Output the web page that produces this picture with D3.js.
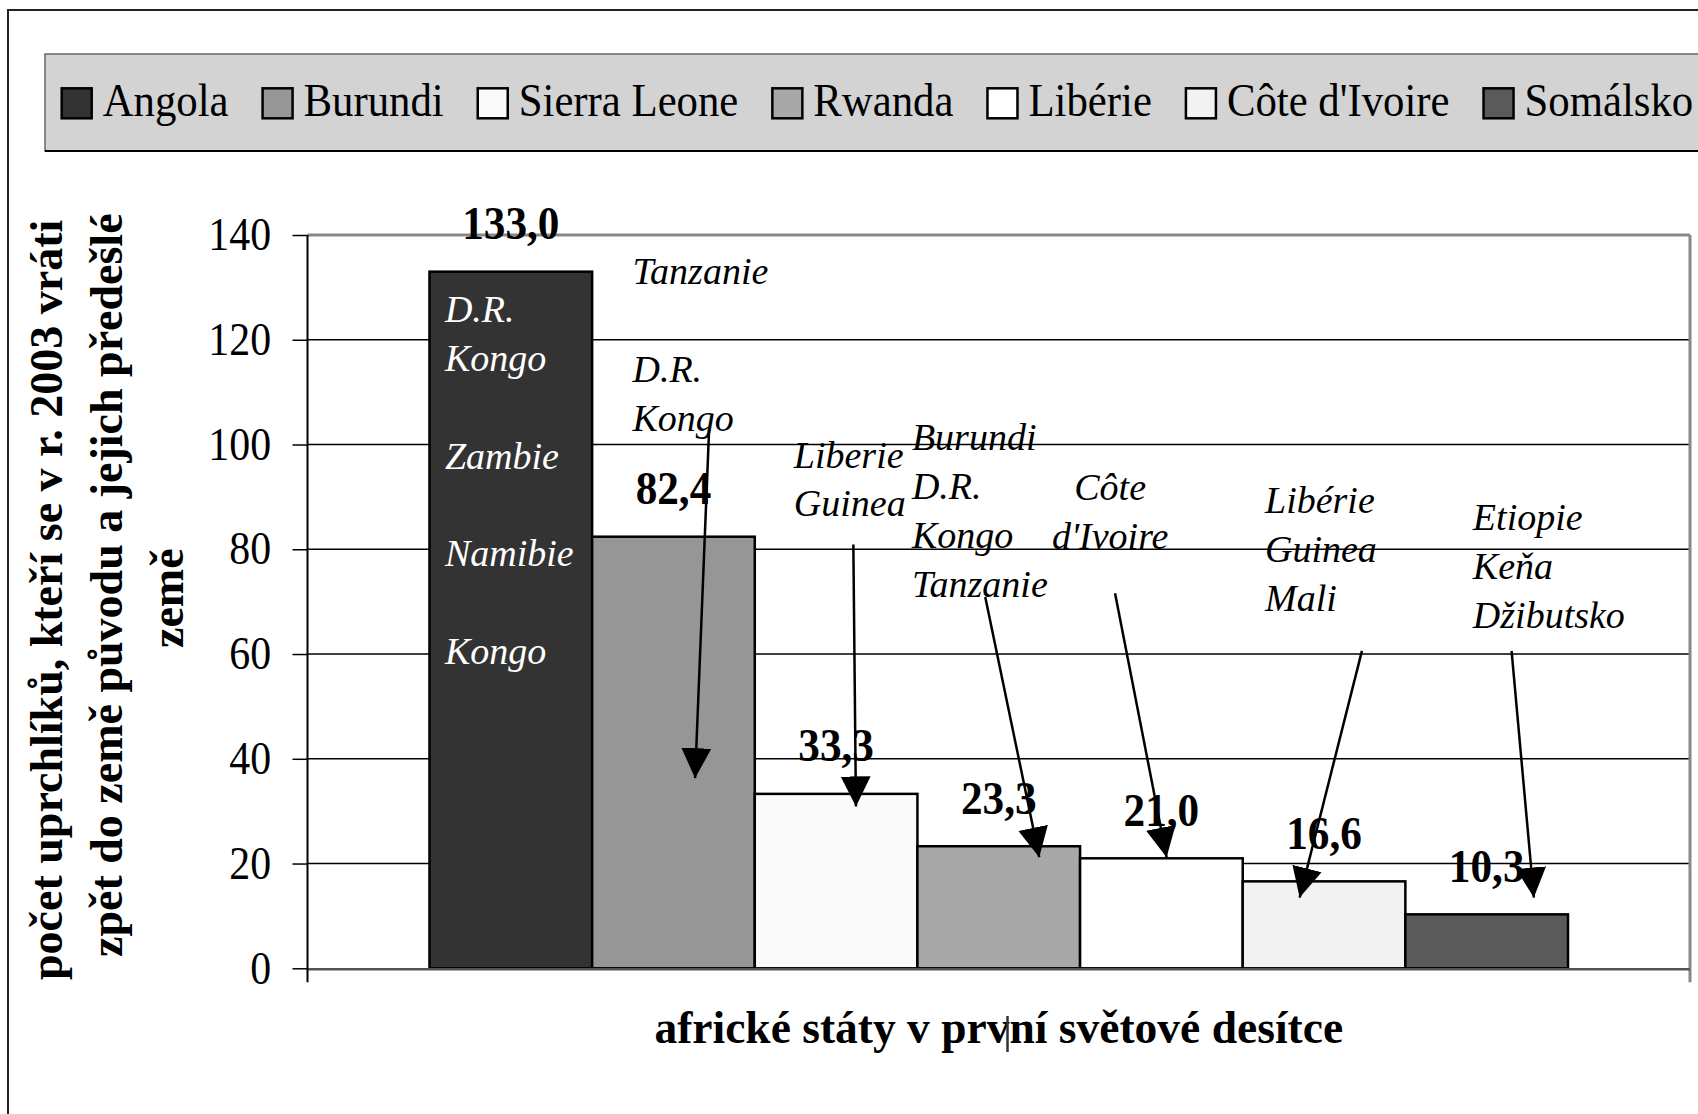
<!DOCTYPE html>
<html>
<head>
<meta charset="utf-8">
<script src="https://cdn.jsdelivr.net/npm/d3@7"></script>
<style>
  body { margin: 0; background: #fff; }
  text { font-family: "Liberation Serif", "Times New Roman", serif; }
</style>
</head>
<body>
<svg id="chart" width="1698" height="1114"></svg>
<script>
// refugees returned home in 2003 (thousands), top ten african states
const series = ["Angola", "Burundi", "Sierra Leone", "Rwanda", "Libérie", "Côte d'Ivoire", "Somálsko"];
const values = [133.0, 82.4, 33.3, 23.3, 21.0, 16.6, 10.3];
const colors = ["#333333", "#969696", "#fafafa", "#a8a8a8", "#ffffff", "#f2f2f2", "#5a5a5a"];
const yTicks = [0, 20, 40, 60, 80, 100, 120, 140];

// countries they came back from, written next to each bar
const noteLines = [
  ["D.R.", "Kongo", "", "Zambie", "", "Namibie", "", "Kongo"],
  ["Tanzanie", "", "D.R.", "Kongo"],
  ["Liberie", "Guinea"],
  ["Burundi", "D.R.", "Kongo", "Tanzanie"],
  ["Côte", "d'Ivoire"],
  ["Libérie", "Guinea", "Mali"],
  ["Etiopie", "Keňa", "Džibutsko"]
];
// [offset inside band (fraction of step), value of first baseline]
const noteAt = [[0.095, 123.3], [0.248, 130.6], [0.24, 95.6], [-0.034, 98.9], [0.185, 89.4], [0.137, 86.9], [0.415, 83.6]];
// arrows from the note to the bar: [band offset, value]
const arrowFrom = [null, [0.719, 102.8], [0.606, 80.9], [0.417, 70.9], [0.215, 71.6], [0.733, 60.6], [0.653, 60.6]];
const arrowTo = [null, [0.633, 36.3], [0.622, 30.9], [0.749, 21.2], [0.532, 21.2], [0.35, 13.5], [0.79, 13.5]];

const yTitle = [
  "počet uprchlíků, kteří se v r. 2003 vrátili",
  "zpět do země původu a jejich předešlé",
  "země"
];
const xTitle = "africké státy v první světové desítce";

const svg = d3.select("#chart");
const plot = { left: 307.5, right: 1690, top: 235, bottom: 968.3 };

const x = d3.scaleBand()
  .domain(series)
  .range([plot.left, plot.right])
  .paddingInner(0)
  .paddingOuter(0.75);

const y = d3.scaleLinear()
  .domain([0, 140])
  .range([plot.bottom, plot.top]);

// text squeezed sideways like in the original picture
function squeezed(g, str, px, py, size, sx) {
  return g.append("text")
    .attr("transform", `translate(${px},${py}) scale(${sx},1)`)
    .attr("font-size", size)
    .text(str);
}

// outer frame
svg.append("rect")
  .attr("x", 8).attr("y", 10)
  .attr("width", 1800).attr("height", 1200)
  .attr("fill", "#fff")
  .attr("stroke", "#222")
  .attr("stroke-width", 2);

// legend
const legend = svg.append("g");
legend.append("rect")
  .attr("x", 45).attr("y", 54)
  .attr("width", 1700).attr("height", 97)
  .attr("fill", "#d3d3d3")
  .attr("stroke", "#666")
  .attr("stroke-width", 1.5);
legend.append("line")
  .attr("x1", 45).attr("x2", 1698)
  .attr("y1", 151).attr("y2", 151)
  .attr("stroke", "#000").attr("stroke-width", 2);

const legSx = 0.91;
let lx = 61.7;
series.forEach((s, i) => {
  legend.append("rect")
    .attr("x", lx).attr("y", 88.3)
    .attr("width", 30).attr("height", 30)
    .attr("fill", colors[i])
    .attr("stroke", "#000")
    .attr("stroke-width", 2.5);
  const t = squeezed(legend, s, lx + 41, 116, 47, legSx);
  lx += 41 + t.node().getComputedTextLength() * legSx + 34;
});

// grid lines
svg.append("g")
  .selectAll("line")
  .data(yTicks.filter(t => t > 0 && t < 140))
  .join("line")
  .attr("x1", plot.left).attr("x2", plot.right)
  .attr("y1", d => y(d)).attr("y2", d => y(d))
  .attr("stroke", "#000")
  .attr("stroke-width", 1.5);

// plot area border (top and right)
svg.append("line")
  .attr("x1", plot.left).attr("x2", plot.right)
  .attr("y1", y(140)).attr("y2", y(140))
  .attr("stroke", "#888").attr("stroke-width", 3);
svg.append("line")
  .attr("x1", plot.right).attr("x2", plot.right)
  .attr("y1", y(140)).attr("y2", plot.bottom + 14)
  .attr("stroke", "#888").attr("stroke-width", 3);

// bars
svg.append("g")
  .selectAll("rect")
  .data(series)
  .join("rect")
  .attr("x", d => x(d))
  .attr("y", (d, i) => y(values[i]))
  .attr("width", x.bandwidth())
  .attr("height", (d, i) => y(0) - y(values[i]))
  .attr("fill", (d, i) => colors[i])
  .attr("stroke", "#000")
  .attr("stroke-width", 2.5);

// bottom axis line
svg.append("line")
  .attr("x1", plot.left).attr("x2", plot.right)
  .attr("y1", y(0) + 1).attr("y2", y(0) + 1)
  .attr("stroke", "#555").attr("stroke-width", 2.5);

// y axis
const tickSx = 0.91;
const yAxis = svg.append("g")
  .attr("transform", `translate(${plot.left},0)`)
  .call(d3.axisLeft(y).tickValues(yTicks).tickSize(15).tickPadding(25).tickFormat(d3.format("d")));
yAxis.select(".domain").remove();
yAxis.selectAll(".tick line").attr("stroke", "#000").attr("stroke-width", 1.5);
yAxis.selectAll(".tick text")
  .attr("font-family", "Liberation Serif")
  .attr("font-size", 46)
  .attr("fill", "#000")
  .attr("transform", `scale(${tickSx},1)`);
svg.append("line")
  .attr("x1", plot.left).attr("x2", plot.left)
  .attr("y1", y(140)).attr("y2", plot.bottom + 14)
  .attr("stroke", "#000").attr("stroke-width", 2);

// value labels
const fmt = v => d3.format(".1f")(v).replace(".", ",");
const labels = svg.append("g")
  .attr("font-weight", "bold");
series.forEach((s, i) => {
  squeezed(labels, fmt(values[i]), x(s) + x.bandwidth() / 2, y(values[i]) - 32.5, 46, 0.94)
    .attr("text-anchor", "middle");
});

// arrows
const defs = svg.append("defs");
defs.append("marker")
  .attr("id", "head")
  .attr("viewBox", "0 0 10 10")
  .attr("refX", 10).attr("refY", 5)
  .attr("markerUnits", "userSpaceOnUse")
  .attr("markerWidth", 30).attr("markerHeight", 31)
  .attr("orient", "auto")
  .append("path")
  .attr("d", "M0,0L10,5L0,10Z")
  .attr("fill", "#000");

const step = x.step();
const ax = (i, f) => x(series[i]) + f * step;

svg.append("g")
  .selectAll("line")
  .data(series.map((s, i) => i).filter(i => arrowFrom[i]))
  .join("line")
  .attr("x1", i => ax(i, arrowFrom[i][0]))
  .attr("y1", i => y(arrowFrom[i][1]))
  .attr("x2", i => ax(i, arrowTo[i][0]))
  .attr("y2", i => y(arrowTo[i][1]))
  .attr("stroke", "#000")
  .attr("stroke-width", 2.5)
  .attr("marker-end", "url(#head)");

// notes
const notes = svg.append("g")
  .attr("font-style", "italic")
  .attr("font-size", 38);
noteLines.forEach((lines, i) => {
  const t = notes.append("text")
    .attr("x", ax(i, noteAt[i][0]))
    .attr("y", y(noteAt[i][1]))
    .attr("fill", i === 0 ? "#fff" : "#000")
    .attr("text-anchor", i === 4 ? "middle" : "start");
  lines.forEach((ln, k) => {
    t.append("tspan")
      .attr("x", ax(i, noteAt[i][0]))
      .attr("dy", k === 0 ? 0 : 48.8)
      .text(ln === "" ? "\u00a0" : ln);
  });
});

// axis titles
const clip = defs.append("clipPath").attr("id", "ytclip");
clip.append("rect").attr("x", 0).attr("y", 219).attr("width", 260).attr("height", 900);
clip.append("rect").attr("x", 90).attr("y", 150).attr("width", 170).attr("height", 900);

const yt = svg.append("g")
  .attr("clip-path", "url(#ytclip)")
  .attr("font-weight", "bold")
  .attr("font-size", 46);
const ytPos = [[62, 980], [122, 957], [183, 648]];
yTitle.forEach((line, k) => {
  yt.append("text")
    .attr("transform", `translate(${ytPos[k][0]},${ytPos[k][1]}) rotate(-90)`)
    .text(line);
});

const xt = svg.append("text")
  .attr("x", (plot.left + plot.right) / 2)
  .attr("y", 1043)
  .attr("text-anchor", "middle")
  .attr("font-weight", "bold")
  .attr("font-size", 45.5)
  .text(xTitle);

// stray text cursor left inside the title in the original
const xtLen = xt.node().getComputedTextLength();
const cutAt = xTitle.indexOf("ní");
const cx = (plot.left + plot.right) / 2 - xtLen / 2 + xt.node().getSubStringLength(0, cutAt) - 2;
svg.append("line")
  .attr("x1", cx).attr("x2", cx)
  .attr("y1", 1016).attr("y2", 1052)
  .attr("stroke", "#333").attr("stroke-width", 2.5);
</script>
</body>
</html>
